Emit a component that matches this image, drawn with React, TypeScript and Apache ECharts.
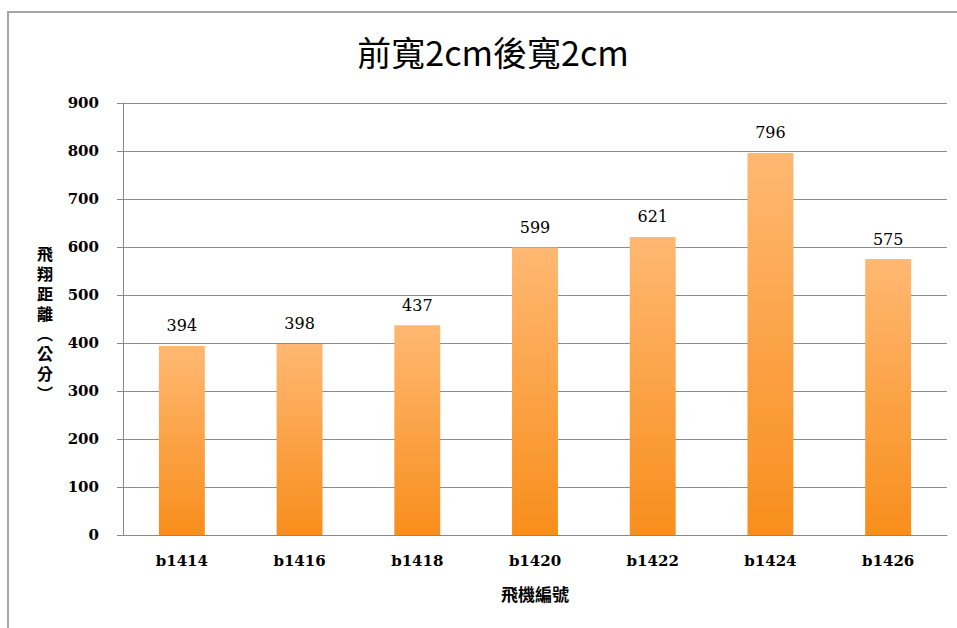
import React, { useEffect, useRef } from "react";
import * as echarts from "echarts";

const categories = ["b1414", "b1416", "b1418", "b1420", "b1422", "b1424", "b1426"];
const distances = [394, 398, 437, 599, 621, 796, 575];
const titleText = "前寬2cm後寬2cm";
const yAxisTitle = "飛翔距離(公分)";
const xAxisTitle = "飛機編號";

export default function App() {
  const ref = useRef<HTMLDivElement>(null);
  useEffect(() => {
    if (!ref.current) return;
    const chart = echarts.init(ref.current, undefined, { renderer: "svg" });
    const chars = yAxisTitle.replace("(", "︵").replace(")", "︶").split("");
    chart.setOption({
      animation: false,
      backgroundColor: "#ffffff",
      title: {
        text: titleText,
        left: 488,
        top: 29,
        textAlign: "center",
        textStyle: {
          fontFamily: "Noto Sans CJK TC",
          fontSize: 34,
          fontWeight: "normal",
          color: "#000000",
        },
      },
      graphic: [
        {
          type: "rect",
          shape: { x: 8, y: 12, width: 980, height: 640 },
          style: { fill: "none", stroke: "#a6a6a6", lineWidth: 2 },
          silent: true,
        },
        ...chars.map((c, i) => ({
          type: "text",
          x: 45,
          y: 245 + i * 20,
          style: {
            text: c,
            fontFamily: "Noto Sans CJK TC",
            fontWeight: "bold",
            fontSize: 16,
            fill: "#000000",
            align: "center",
            verticalAlign: "top",
          },
        })),
      ],
      grid: { left: 123, right: 10, top: 103, bottom: 93 },
      xAxis: {
        type: "category",
        data: categories,
        axisLine: { lineStyle: { color: "#888888", width: 1 } },
        axisTick: { show: false },
        axisLabel: {
          margin: 18,
          fontFamily: "DejaVu Serif",
          fontWeight: "bold",
          fontSize: 15,
          color: "#000000",
        },
        name: xAxisTitle,
        nameLocation: "middle",
        nameGap: 50,
        nameTextStyle: {
          fontFamily: "Noto Sans CJK TC",
          fontWeight: "bold",
          fontSize: 17,
          color: "#000000",
        },
      },
      yAxis: {
        type: "value",
        min: 0,
        max: 900,
        interval: 100,
        axisLine: { show: true, lineStyle: { color: "#888888", width: 1 } },
        axisTick: { show: true, inside: false, length: 6, lineStyle: { color: "#888888" } },
        splitLine: { lineStyle: { color: "#8c8c8c", width: 1 } },
        axisLabel: {
          margin: 24,
          fontFamily: "DejaVu Serif",
          fontWeight: "bold",
          fontSize: 15,
          color: "#000000",
        },
      },
      series: [
        {
          type: "bar",
          data: distances,
          barWidth: "39%",
          itemStyle: {
            color: new echarts.graphic.LinearGradient(0, 0, 0, 1, [
              { offset: 0, color: "#ffb872" },
              { offset: 1, color: "#f88e1c" },
            ]),
          },
          label: {
            show: true,
            position: "top",
            distance: 12,
            fontFamily: "DejaVu Serif",
            fontSize: 16,
            color: "#000000",
          },
        },
      ],
    });
    return () => chart.dispose();
  }, []);
  return (
    <div
      ref={ref}
      style={{ position: "absolute", left: 0, top: 0, width: 957, height: 628 }}
    />
  );
}
